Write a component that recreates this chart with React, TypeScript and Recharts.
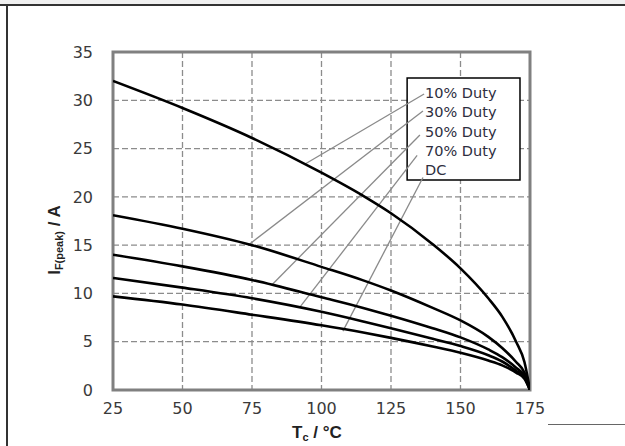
import { LineChart, Line, XAxis, YAxis, CartesianGrid, ReferenceArea } from "recharts";

// case temperature, °C
const temps = [25, 50, 75, 100, 115, 125, 140, 150, 160, 165, 170, 173, 175];

// peak forward current, A
const duty10 = [32.0, 29.2, 26.1, 22.5, 20.1, 18.3, 15.1, 12.6, 9.5, 7.6, 5.0, 2.9, 0];
const duty30 = [18.1, 16.7, 15.0, 12.75, 11.35, 10.3, 8.5, 7.2, 5.5, 4.35, 2.9, 1.8, 0];
const duty50 = [14.0, 12.8, 11.4, 9.6, 8.5, 7.7, 6.4, 5.45, 4.2, 3.4, 2.3, 1.45, 0];
const duty70 = [11.6, 10.6, 9.5, 8.1, 7.1, 6.4, 5.3, 4.55, 3.6, 2.95, 2.0, 1.3, 0];
const dcCurve = [9.7, 8.85, 7.8, 6.7, 5.95, 5.4, 4.5, 3.85, 3.05, 2.55, 1.8, 1.15, 0];

const xTicks = [25, 50, 75, 100, 125, 150, 175];
const yTicks = [0, 5, 10, 15, 20, 25, 30, 35];

// legend entries and their pointer lines (start at label, end on curve)
const legendLabels = ["10% Duty", "30% Duty", "50% Duty", "70% Duty", "DC"];
const leaderFromT = [136.9, 136.5, 135.4, 134.4, 136.5];
const leaderFromI = [30.65, 28.9, 26.4, 24.3, 22.0];
const leaderToT = [94.1, 73.6, 82.2, 92.3, 107.7];
const leaderToI = [23.4, 15.0, 10.9, 8.6, 6.1];

// legend box extent in data units
const boxT = [130.8, 171.4];
const boxI = [21.75, 32.3];

const data = temps.map((t, i) => ({
  t,
  d10: duty10[i],
  d30: duty30[i],
  d50: duty50[i],
  d70: duty70[i],
  dc: dcCurve[i],
}));

const leaders = legendLabels.map((_, i) => [
  { t: leaderFromT[i], v: leaderFromI[i] },
  { t: leaderToT[i], v: leaderToI[i] },
]);

const tickFont = { fill: "#3a3a3a", fontSize: 16, fontFamily: "DejaVu Sans" };
const titleFont = "bold 17px 'Liberation Sans', Arial, sans-serif";

const App = () => {
  return (
    <div style={{ position: "absolute", left: 0, top: 0, width: 625, height: 446, background: "#fff", overflow: "hidden" }}>
      <div style={{ position: "absolute", left: 0, top: 0, width: 625, height: 4, background: "#f0f0f0" }} />
      <div style={{ position: "absolute", left: 0, top: 4, width: 625, height: 2, background: "#333" }} />
      <div style={{ position: "absolute", left: 6, top: 5, width: 1.5, height: 441, background: "#333" }} />
      <div style={{ position: "absolute", left: 548, top: 424, width: 77, height: 1, background: "#666" }} />

      <LineChart width={625} height={446} data={data} margin={{ top: 52, right: 95, bottom: 26, left: 53 }}>
        <CartesianGrid stroke="#8c8c8c" strokeWidth={1.3} strokeDasharray="6 3" />
        <XAxis
          dataKey="t"
          type="number"
          domain={[25, 175]}
          ticks={xTicks}
          height={30}
          axisLine={false}
          tickLine={false}
          tickMargin={7}
          tick={tickFont}
          allowDataOverflow
        />
        <YAxis
          type="number"
          domain={[0, 35]}
          ticks={yTicks}
          width={60}
          axisLine={false}
          tickLine={false}
          tickMargin={14}
          tick={tickFont}
          allowDataOverflow
        />
        <ReferenceArea x1={25} x2={175} y1={0} y2={35} fill="none" stroke="#808080" strokeWidth={3} />
        <ReferenceArea
          x1={boxT[0]}
          x2={boxT[1]}
          y1={boxI[0]}
          y2={boxI[1]}
          fill="#fff"
          fillOpacity={1}
          stroke="#000"
          strokeWidth={1.5}
        />
        {leaders.map((seg, i) => (
          <Line
            key={legendLabels[i]}
            data={seg}
            dataKey="v"
            type="linear"
            stroke="#8a8a8a"
            strokeWidth={1.3}
            dot={false}
            isAnimationActive={false}
          />
        ))}
        {["d10", "d30", "d50", "d70", "dc"].map((k) => (
          <Line
            key={k}
            dataKey={k}
            type="monotone"
            stroke="#000"
            strokeWidth={2.6}
            dot={false}
            isAnimationActive={false}
          />
        ))}
      </LineChart>

      <div
        style={{
          position: "absolute",
          left: 425,
          top: 84,
          font: "14.5px 'DejaVu Sans', sans-serif",
          lineHeight: "19.3px",
          color: "#2e2e40",
          whiteSpace: "nowrap",
        }}
      >
        {legendLabels.map((l) => (
          <div key={l}>{l}</div>
        ))}
      </div>

      <div
        style={{
          position: "absolute",
          left: 317,
          top: 433,
          transform: "translate(-50%, -50%)",
          font: titleFont,
          color: "#222",
          whiteSpace: "nowrap",
          lineHeight: "20px",
        }}
      >
        T<span style={{ fontSize: 11, position: "relative", top: 3 }}>c</span> / °C
      </div>
      <div
        style={{
          position: "absolute",
          left: 55,
          top: 240,
          transform: "translate(-50%, -50%) rotate(-90deg)",
          font: titleFont,
          color: "#222",
          whiteSpace: "nowrap",
          lineHeight: "20px",
        }}
      >
        I<span style={{ fontSize: 11, position: "relative", top: 3 }}>F(peak)</span> / A
      </div>
    </div>
  );
};

export default App;
